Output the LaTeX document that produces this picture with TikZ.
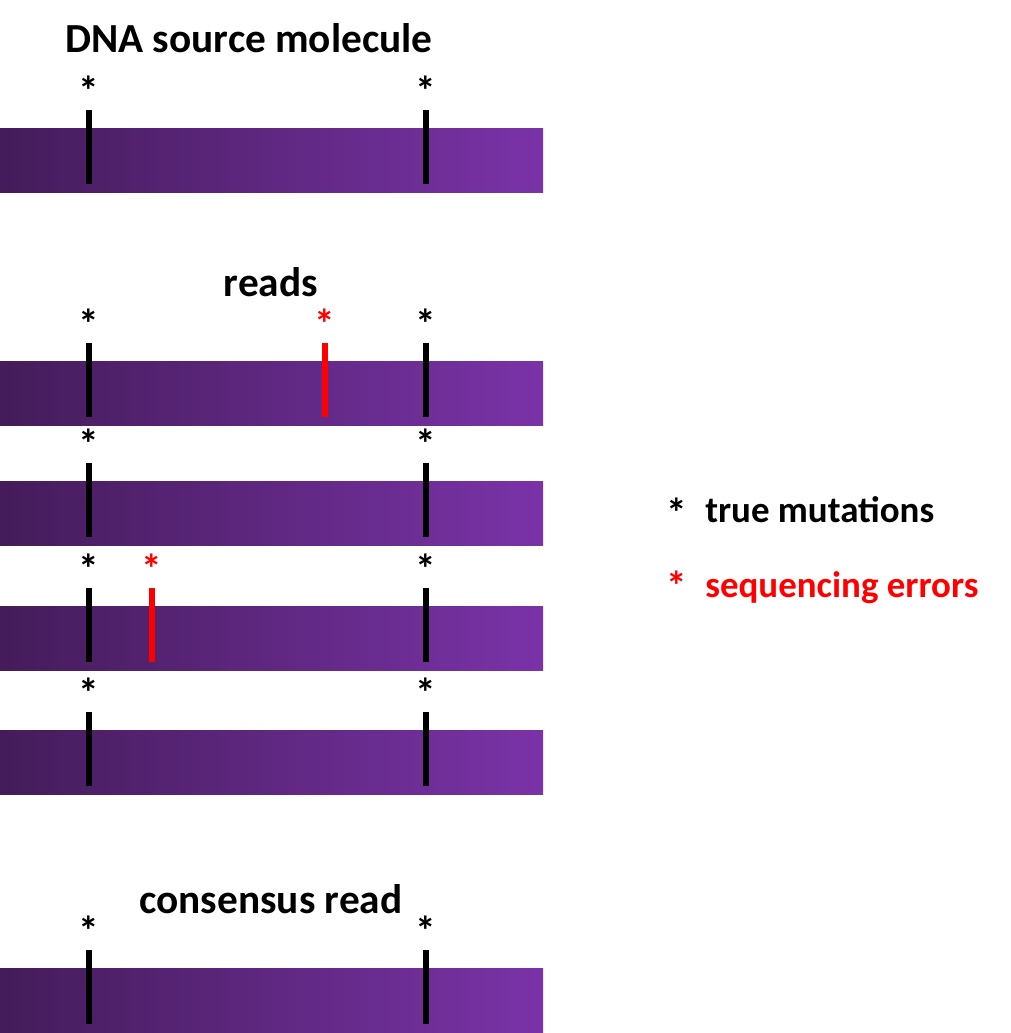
\documentclass[tikz,border=0pt]{standalone}
\usepackage{fontspec}
\setmainfont{Carlito}
\usetikzlibrary{calc}
\definecolor{StrandDark}{HTML}{441C5A}
\definecolor{StrandLight}{HTML}{7A33A8}
\definecolor{ErrorRed}{HTML}{FF0000}

\begin{document}
\begin{tikzpicture}[
  x=0.75pt,y=-0.75pt,font=\bfseries\fontsize{27.7}{33}\selectfont,
  strand/.style={left color=StrandDark,right color=StrandLight,anchor=north west,
    minimum width=407.25pt,minimum height=48pt,inner sep=0pt,outer sep=0pt},
  mutline/.style={line width=4.5pt},
  star/.style={anchor=base,inner sep=0pt,font=\bfseries\fontsize{31}{33}\selectfont},
  title/.style={anchor=base,inner sep=0pt,font=\bfseries\fontsize{31}{36}\selectfont},
  keytext/.style={anchor=base west,inner sep=0pt},
]
\useasboundingbox (0,0) rectangle (1011,1033);

% strands
\foreach \name/\top in {src/128,readA/361,readB/481,readC/606,readD/730,cons/968}
  \node[strand] (\name) at (0,\top) {};

% true mutations, on every strand
\foreach \name in {src,readA,readB,readC,readD,cons}
  \foreach \pos in {89,426}{
    \draw[mutline] ($(\name.north west)+(\pos,-18)$) -- ($(\name.south west)+(\pos,-8)$);
    \node[star] at ($(\name.north west)+(\pos,-23)$) {*};
  }

% sequencing errors
\foreach \name/\pos in {readA/325,readC/152}{
  \draw[mutline,ErrorRed] ($(\name.north west)+(\pos,-18)$) -- ($(\name.south west)+(\pos,-8)$);
  \node[star,text=ErrorRed] at ($(\name.north west)+(\pos,-23)$) {*};
}

\node[title] (srctitle) at (249,52) {DNA source molecule};
\node[title] (readstitle) at (271,296) {reads};
\node[title] (constitle) at (271,913) {consensus read};

% key
\node[star] (keytrue) at (677,527) {*};
\node[keytext] (keytruetxt) at (705,522) {true mutations};
\node[star,text=ErrorRed] (keyerr) at (677,600) {*};
\node[keytext,text=ErrorRed] (keyerrtxt) at (705,597) {sequencing errors};
\end{tikzpicture}
\end{document}
